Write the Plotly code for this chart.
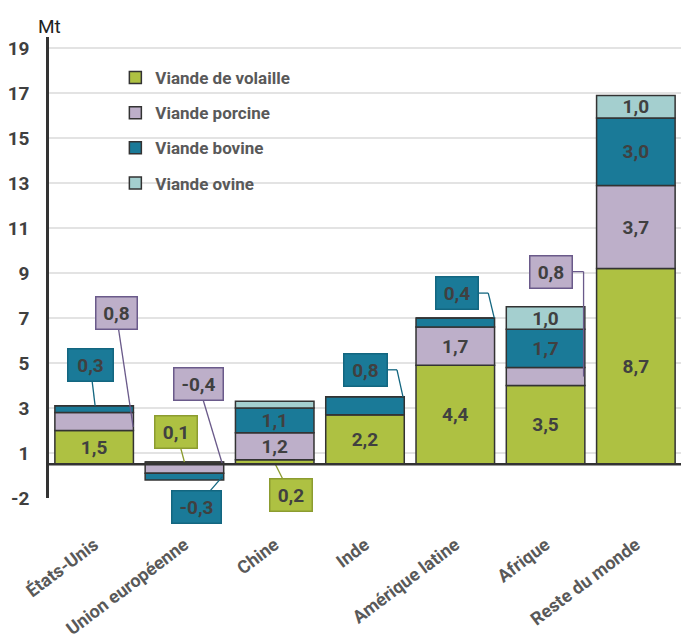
import plotly.graph_objects as go

# ---------------- data ----------------
categories = ["États-Unis", "Union européenne", "Chine", "Inde",
              "Amérique latine", "Afrique", "Reste du monde"]
series_names = ["Viande de volaille", "Viande porcine", "Viande bovine", "Viande ovine"]
volaille = [1.5, 0.1, 0.2, 2.2, 4.4, 3.5, 8.7]
porcine = [0.8, -0.4, 1.2, 0.0, 1.7, 0.8, 3.7]
bovine = [0.3, -0.3, 1.1, 0.8, 0.4, 1.7, 3.0]
ovine = [0.0, 0.0, 0.3, 0.0, 0.0, 1.0, 1.0]
tick_vals = [-1.5, 0.5, 2.5, 4.5, 6.5, 8.5, 10.5, 12.5, 14.5, 16.5, 18.5]
tick_text = ["-2", "1", "3", "5", "7", "9", "11", "13", "15", "17", "19"]

# ---------------- styles ----------------
FONT = "Roboto, Liberation Sans, sans-serif"
TXT = "#404040"
GRAYTXT = "#595959"
fills = ["#AEC142", "#BDAFC9", "#1A7A98", "#A4CFCF"]
borders = ["#8C9C30", "#6A5A8A", "#136680", "#6FA5A5"]
values = [volaille, porcine, bovine, ovine]

W, H = 681, 640
ML, MR, MT, MB = 49, 0, 37, 142
YR = [-1.5, 19]
XR = [-0.5, len(categories) - 0.5]
PW, PH = W - ML - MR, H - MT - MB
px_x = PW / (XR[1] - XR[0])
px_y = PH / (YR[1] - YR[0])


def fmt(v):
    return f"{v:.1f}".replace(".", ",")


def to_paper_x(x):
    return (x - XR[0]) / (XR[1] - XR[0])


def to_paper_y(y):
    return (y - YR[0]) / (YR[1] - YR[0])


fig = go.Figure()
for k, (name, vals) in enumerate(zip(series_names, values)):
    texts = [fmt(v) if v >= 1.0 else "" for v in vals]
    fig.add_trace(go.Bar(
        x=categories, y=vals, name=name, text=texts,
        textposition="inside", insidetextanchor="middle", textangle=0,
        constraintext="none",
        textfont=dict(family=FONT, size=19, color=TXT, weight="bold"),
        marker=dict(color=fills[k], line=dict(color="#333333", width=1.5)),
        legendgroup=name, hoverinfo="skip",
    ))


# stack bounds under relative stacking
def seg(k, i):
    v = values[k][i]
    base = sum(values[j][i] for j in range(k) if (values[j][i] >= 0) == (v >= 0))
    return base, v


# callouts: (series index, category index, fraction along segment, tip dx px,
#            box dx px, box dy px (relative to tip, down positive), elbow, box width)
callouts = [
    (2, 0, 1.0, 1, -5, -41, None, 44),
    (1, 0, 0.2, 39, -17, -114, None, 40),
    (0, 1, 1.0, 0, -8, -30, None, 41),
    (1, 1, 0.0, 38, -24, -80, None, 48),
    (2, 1, 0.5, 38, -26, 30, None, 48),
    (0, 2, 0.3, 0, 16, 32, None, 41),
    (2, 3, 1.0, 38, -38, -27, "h", 42),
    (2, 4, 1.0, 39, -37, -25, "h", 41),
    (1, 5, 0.5, 38, -33, -105, "v", 41),
]

shapes = []
annotations = []
for (k, i, frac, tdx, bdx, bdy, elbow, bw) in callouts:
    base, v = seg(k, i)
    ty = base + frac * v
    tx = i + tdx / px_x
    bx = tx + bdx / px_x
    by = ty - bdy / px_y
    lc = borders[k]
    pts = [(bx, by)]
    if elbow == "h":
        pts.append((tx - 6 / px_x, by))
    elif elbow == "v":
        pts.append((tx, by))
    pts.append((tx, ty))
    for (x0, y0), (x1, y1) in zip(pts[:-1], pts[1:]):
        shapes.append(dict(type="line", xref="paper", yref="paper",
                           x0=to_paper_x(x0), y0=to_paper_y(y0),
                           x1=to_paper_x(x1), y1=to_paper_y(y1),
                           line=dict(color=lc, width=1.3), layer="above"))
    annotations.append(dict(
        x=to_paper_x(bx), y=to_paper_y(by), xref="paper", yref="paper",
        text=fmt(v), showarrow=False,
        width=bw, height=31, borderpad=0, bgcolor=fills[k], bordercolor=lc, borderwidth=1.5,
        font=dict(family=FONT, size=19, color=TXT, weight="bold"),
        xanchor="center", yanchor="middle",
    ))

# zero axis line
shapes.append(dict(type="line", xref="paper", yref="y", x0=0, x1=1, y0=0, y1=0,
                   line=dict(color="#333333", width=2.5), layer="above"))

annotations.append(dict(
    x=0, y=1 + 10 / PH, xref="paper", yref="paper", text="Mt", showarrow=False,
    xanchor="center", yanchor="middle",
    font=dict(family=FONT, size=19, color="#222222"),
))

fig.update_layout(
    width=W, height=H,
    margin=dict(l=ML, r=MR, t=MT, b=MB, pad=0, autoexpand=False),
    barmode="relative", bargap=0.13,
    plot_bgcolor="white", paper_bgcolor="white",
    showlegend=True,
    legend=dict(
        x=0.105, y=0.95, xanchor="left", yanchor="top",
        traceorder="grouped", tracegroupgap=10,
        bgcolor="rgba(0,0,0,0)",
        font=dict(family=FONT, size=17, color=GRAYTXT, weight="bold"),
    ),
    shapes=shapes, annotations=annotations,
    xaxis=dict(
        range=XR, showgrid=False, showline=False, zeroline=False, automargin=False,
        tickangle=-37, ticks="", ticklabelstandoff=32,
        tickfont=dict(family=FONT, size=18, color=GRAYTXT, weight="bold"),
        fixedrange=True,
    ),
    yaxis=dict(
        range=YR, tickmode="array", tickvals=tick_vals, ticktext=tick_text,
        showgrid=True, gridcolor="#E3E3E3", gridwidth=1.5, automargin=False,
        zeroline=False, showline=True, linecolor="#333333", linewidth=2.5,
        ticks="", ticklabelstandoff=13,
        tickfont=dict(family=FONT, size=19, color=TXT, weight="bold"),
        fixedrange=True,
    ),
)

fig.write_html(
    "out.html",
    config={"displayModeBar": False},
    post_script="document.body.style.margin='0';document.body.style.overflow='hidden';",
)
